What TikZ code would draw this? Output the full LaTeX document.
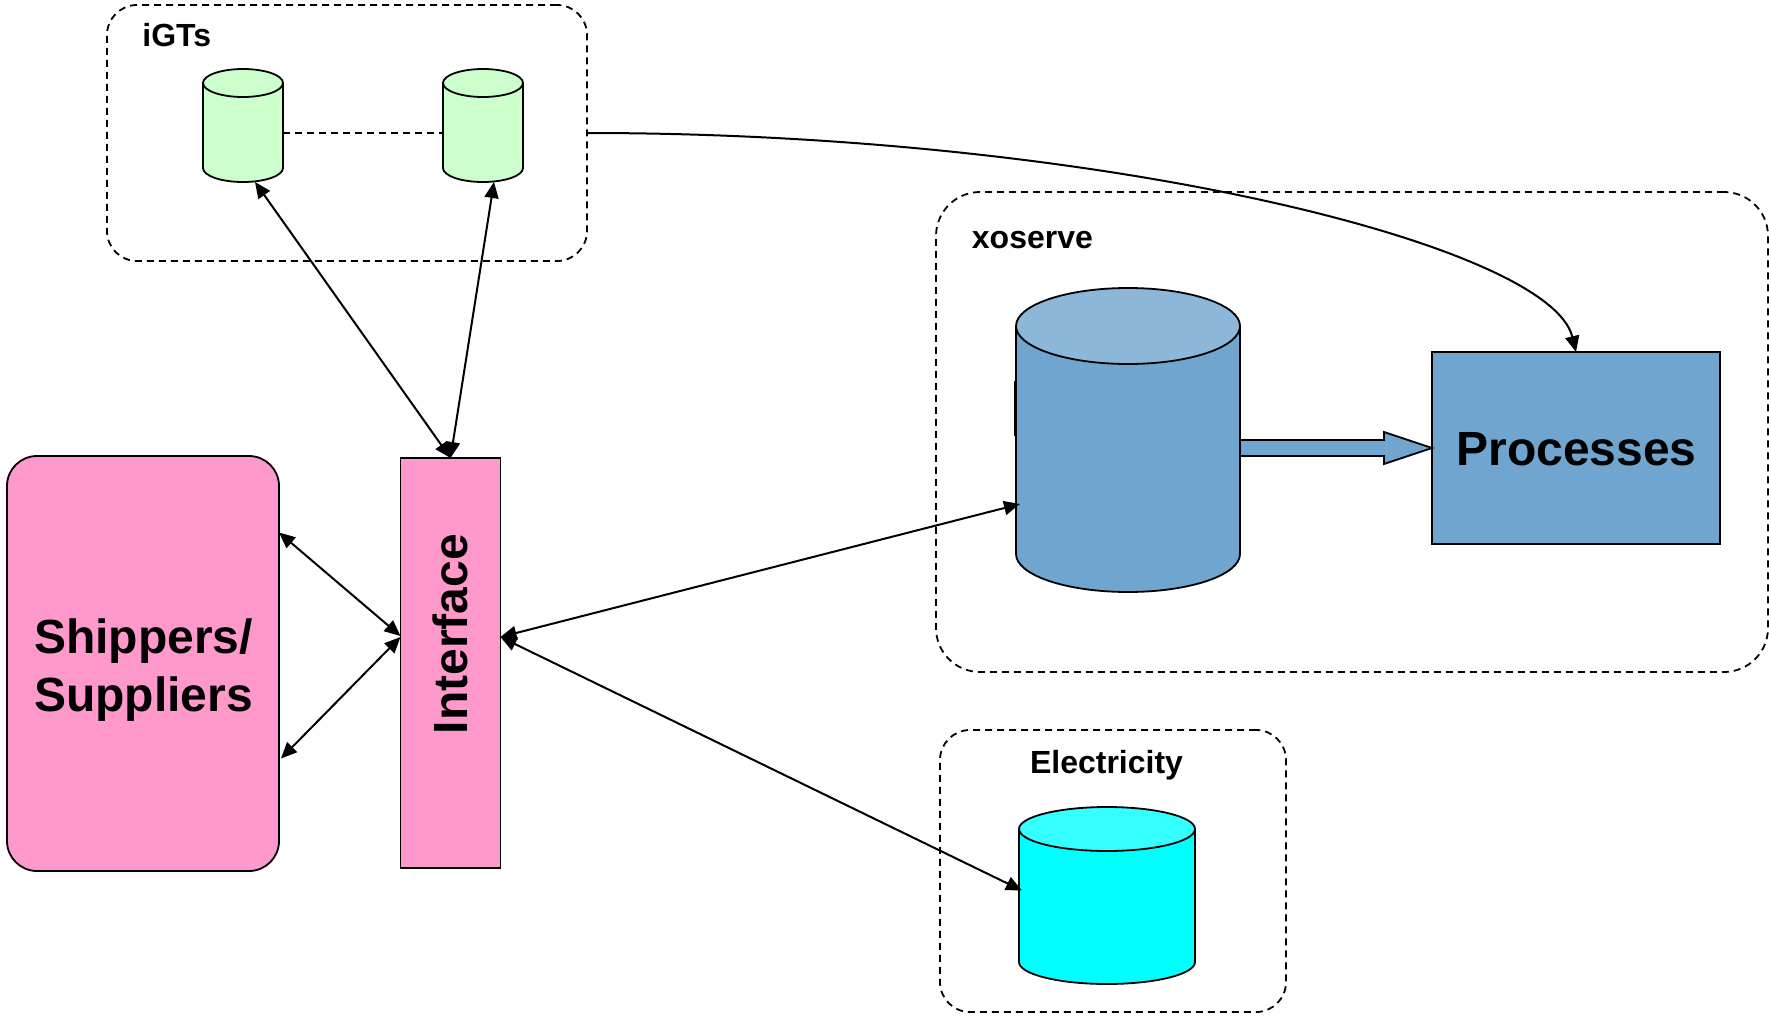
\documentclass[tikz,border=0pt]{standalone}
\usepackage{fontspec}
\setmainfont{Liberation Sans}
\usetikzlibrary{arrows.meta,calc}
\definecolor{pinkfill}{HTML}{FF99CC}
\definecolor{bluebody}{HTML}{6FA5CE}
\definecolor{bluetop}{HTML}{8DB7D9}
\definecolor{greenfill}{HTML}{CCFFCC}
\definecolor{cyanbody}{HTML}{00FFFF}
\definecolor{cyantop}{HTML}{33FFFF}
\tikzset{
  groupbox/.style={draw=black,line width=0.9pt,dash pattern=on 3.5pt off 2.5pt,inner sep=0pt,outer sep=0pt},
  solidbox/.style={draw=black,line width=0.9pt,inner sep=0pt,outer sep=0pt,align=center,font=\fontsize{24}{29}\selectfont\bfseries},
  grouplabel/.style={inner sep=0pt,font=\fontsize{16}{19}\selectfont\bfseries},
  link/.style={line width=1pt,draw=black},
  both/.style={link,{Triangle[length=8pt,width=7pt]}-{Triangle[length=8pt,width=7pt]}},
  cylframe/.style={inner sep=0pt,outer sep=0pt},
}
% name, cx, cy, width, height, ellipse ry (all px), body, top
\newcommand{\dbcyl}[8]{%
  \node[cylframe,minimum width=#4*0.5pt,minimum height=#5*0.5pt] (#1) at (#2,#3) {};
  \draw[line width=0.9pt,fill=#7] ([yshift=-#6*0.5pt]#1.north west) -- ([yshift=#6*0.5pt]#1.south west)
     arc[start angle=180,end angle=360,x radius=#4*0.25pt,y radius=#6*0.5pt]
     -- ([yshift=-#6*0.5pt]#1.north east) -- cycle;
  \draw[line width=0.9pt,fill=#8] ([yshift=-#6*0.5pt]#1.north) ellipse[x radius=#4*0.25pt,y radius=#6*0.5pt];
}
\begin{document}
\begin{tikzpicture}[x=0.5pt,y=-0.5pt]
\useasboundingbox (0,0) rectangle (1769,1017);
% group boxes
\node[groupbox,rounded corners=15pt,minimum width=240pt,minimum height=128pt] (igts) at (347,133) {};
\node[groupbox,rounded corners=22pt,minimum width=416pt,minimum height=240pt] (xo) at (1352,432) {};
\node[groupbox,rounded corners=15pt,minimum width=173pt,minimum height=141pt] (elec) at (1113,871) {};
% labels
\node[grouplabel,anchor=west] (igtslabel) at (142,35.5) {iGTs};
\node[grouplabel,anchor=west] (xolabel) at (971.5,240.5) {xoserve};
\node[grouplabel] (eleclabel) at (1106.5,765) {Electricity};
% cylinders
\dbcyl{c1}{243}{125.5}{80}{113}{14}{greenfill}{greenfill}
\dbcyl{c2}{483}{125.5}{80}{113}{14}{greenfill}{greenfill}
\dbcyl{big}{1128}{440}{224}{304}{38}{bluebody}{bluetop}
\dbcyl{cy}{1107}{895.5}{176}{177}{22}{cyanbody}{cyantop}
% small dark marks on the big cylinder sides
\draw[line width=1.2pt] ([yshift=29.5pt,xshift=-0.5pt]big.west) -- ([yshift=2pt,xshift=-0.5pt]big.west);
\draw[line width=1.2pt] ([yshift=27pt]big.east) -- ([yshift=3.5pt]big.east);
% solid boxes
\node[solidbox,fill=pinkfill,rounded corners=15pt,minimum width=136pt,minimum height=207.5pt] (ship) at (143,663.5) {};
\node[font=\fontsize{24}{29}\selectfont\bfseries,align=center,inner sep=0pt] (shiplabel) at (143.5,670) {Shippers/\\Suppliers};
\node[solidbox,fill=pinkfill,minimum width=50pt,minimum height=205pt] (iface) at (450.5,663) {};
\node[font=\fontsize{24}{29}\selectfont\bfseries,rotate=90,inner sep=0pt] (ifacelabel) at (450.5,634) {Interface};
\node[solidbox,fill=bluebody,minimum width=144pt,minimum height=96pt] (proc) at (1576,448) {};
\node[font=\fontsize{24}{29}\selectfont\bfseries,inner sep=0pt] (proclabel) at (1576.5,449) {Processes};
% block arrow
\draw[line width=0.9pt,fill=bluebody] (proc.west) -- ++(-48,-16) -- ++(0,8) -- (big.east) -- ++(0,16) -- ++(144,0) -- ++(0,8) -- cycle;
% connectors
\draw[link,dashed,dash pattern=on 3.5pt off 2.5pt] ([yshift=-3.75pt]c1.east) -- ([yshift=-3.75pt]c2.west);
\draw[both] (iface.north) -- ([xshift=6pt]c1.south);
\draw[both] (iface.north) -- ([xshift=5.5pt]c2.south);
\draw[both] ([yshift=65.5pt]ship.east) -- ([yshift=13.5pt]iface.west);
\draw[both] ([xshift=1pt,yshift=-47.5pt]ship.east) -- ([yshift=13pt]iface.west);
\draw[both] ([yshift=13pt]iface.east) -- ([xshift=2pt,yshift=-32pt]big.west);
\draw[both] ([yshift=13pt]iface.east) -- ([xshift=1.5pt,yshift=2.5pt]cy.west);
\draw[link,-{Triangle[length=8pt,width=7pt]}] (igts.east) .. controls (1100,133) and (1550,245) .. (proc.north);
\end{tikzpicture}
\end{document}
